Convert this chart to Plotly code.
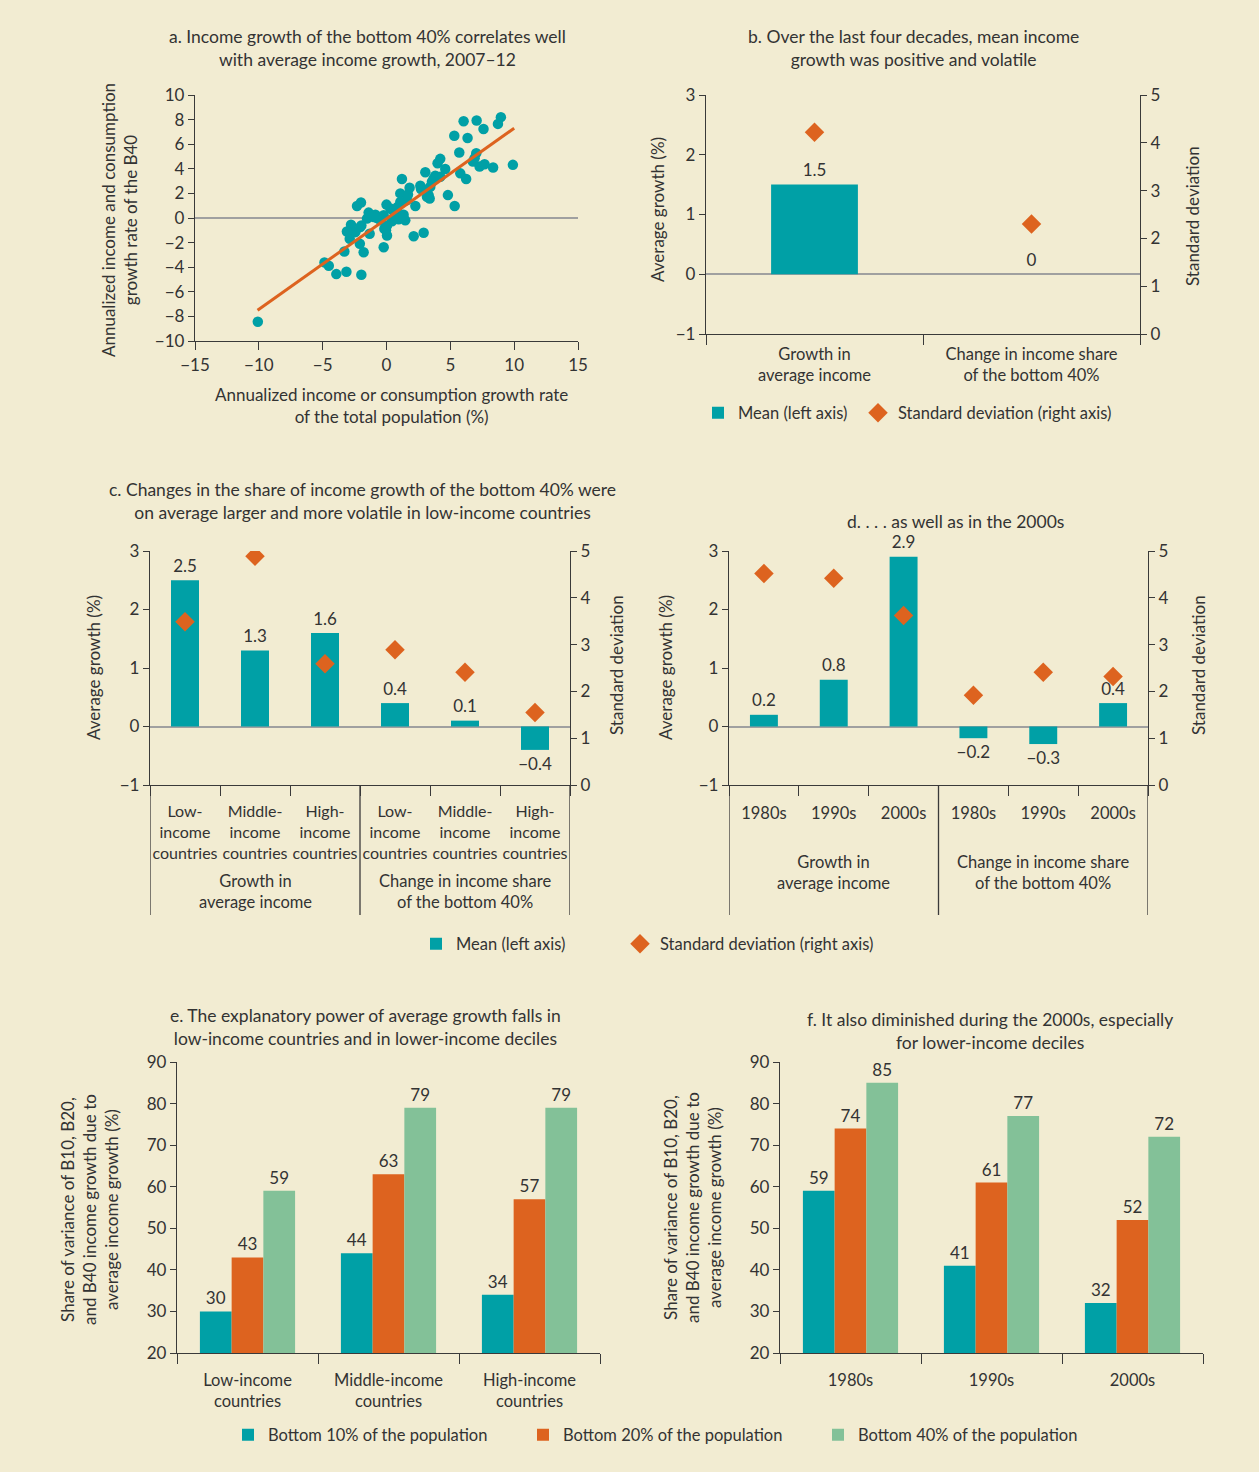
import plotly.graph_objects as go

W, H = 1259, 1472
BG = "#F2ECD2"
TEAL = "#00A0A6"
ORANGE = "#DD631F"
GREEN = "#83C198"
TXT = "#333333"
AXC = "#3a3a3a"
ZERO = "#A0A0A0"
FONT = "Lato"

# ---------------- Data ----------------
# Panel a: scatter of annualized growth (total population vs bottom 40%)
a_x = [-10.08, 8.96, 8.73, 6.04, 7.06, 7.6, 5.31, 6.35, 5.7, 7.03, 6.77, 7.29, 7.68, 8.35,
       9.9, 5.78, 6.24, 4.21, 4.0, 3.04, 4.6, 3.82, 1.21, 2.65, 1.81, 1.08, 3.17, 3.38, 4.81,
       5.34, 2.26, 1.6, 1.08, 0.0, 0.3, 0.56, -2.31, -2.0, -0.87, -1.53, -0.22, 1.34, 1.47,
       0.43, 0.95, -2.78, -2.05, -1.32, -0.17, 0.04, 2.13, 2.91, -2.88, -2.09, -1.79, -3.3,
       -0.22, -4.86, -4.52, -3.93, -3.14, -1.97, -2.44, -0.74, -0.48, 0.69, 3.69, 3.43, 2.78,
       0.04, -0.04, 1.68, 0.87, -1.0, -1.4, -1.97, -3.1, 3.56, 4.21, 2.7, 3.3, 6.9, 1.3]
a_y = [-8.44, 8.2, 7.65, 7.87, 7.92, 7.24, 6.69, 6.5, 5.33, 5.27, 4.59, 4.18, 4.37, 4.1,
       4.32, 3.63, 3.17, 4.81, 4.45, 3.72, 3.99, 3.44, 3.17, 2.62, 2.46, 2.0, 1.72, 1.58, 1.86,
       0.98, 0.98, 1.45, 1.31, 1.09, 0.77, 0.55, 0.98, 1.26, 0.27, -0.05, 0.22, 0.27, -0.19,
       -0.27, -0.11, -0.55, -0.74, -1.28, -0.87, -1.42, -1.48, -1.2, -1.69, -2.1, -2.79, -2.73,
       -2.38, -3.61, -3.88, -4.56, -4.37, -4.62, -1.15, 0.0, -0.19, 0.22, 3.22, 2.54, 2.4,
       -0.6, -1.0, 1.91, 0.9, 0.08, 0.44, -0.6, -1.1, 2.95, 3.36, 2.35, 1.86, 4.86, 0.08]
a_fit_x = [-10.1, 10.0]
a_fit_y = [-7.5, 7.3]

# Panel b
b_cats = ["Growth in<br>average income", "Change in income share<br>of the bottom 40%"]
b_mean = [1.5, 0.0]
b_sd = [4.22, 2.3]

# Panel c
c_cats = ["Low-<br>income<br>countries", "Middle-<br>income<br>countries", "High-<br>income<br>countries",
          "Low-<br>income<br>countries", "Middle-<br>income<br>countries", "High-<br>income<br>countries"]
c_groups = ["Growth in<br>average income", "Change in income share<br>of the bottom 40%"]
c_mean = [2.5, 1.3, 1.6, 0.4, 0.1, -0.4]
c_sd = [3.49, 4.89, 2.59, 2.89, 2.41, 1.55]

# Panel d
d_cats = ["1980s", "1990s", "2000s", "1980s", "1990s", "2000s"]
d_groups = ["Growth in<br>average income", "Change in income share<br>of the bottom 40%"]
d_mean = [0.2, 0.8, 2.9, -0.2, -0.3, 0.4]
d_sd = [4.52, 4.42, 3.62, 1.92, 2.41, 2.32]

# Panels e, f
series_names = ["Bottom 10% of the population", "Bottom 20% of the population",
                "Bottom 40% of the population"]
e_cats = ["Low-income<br>countries", "Middle-income<br>countries", "High-income<br>countries"]
e_b10 = [30, 44, 34]
e_b20 = [43, 63, 57]
e_b40 = [59, 79, 79]
f_cats = ["1980s", "1990s", "2000s"]
f_b10 = [59, 41, 32]
f_b20 = [74, 61, 52]
f_b40 = [85, 77, 72]

titles = {
    "a": "a. Income growth of the bottom 40% correlates well<br>with average income growth, 2007\u201312",
    "b": "b. Over the last four decades, mean income<br>growth was positive and volatile",
    "c": "c. Changes in the share of income growth of the bottom 40% were<br>on average larger and more volatile in low-income countries",
    "d": "d. . . . as well as in the 2000s",
    "e": "e. The explanatory power of average growth falls in<br>low-income countries and in lower-income deciles",
    "f": "f. It also diminished during the 2000s, especially<br>for lower-income deciles",
}

# ---------------- Helpers ----------------
def px(xp):
    return xp / W


def py(yp):
    return 1 - yp / H


def fmt(v):
    s = "0" if v == 0 else f"{v:.1f}"
    return s.replace("-", "\u2212")


def ax(**kw):
    d = dict(showline=True, linecolor=AXC, linewidth=1.3, ticks="outside", tickcolor=AXC,
             tickwidth=1.3, ticklen=6, showgrid=False, zeroline=False, automargin=False,
             tickfont=dict(size=17, color=TXT, family=FONT), fixedrange=True)
    d.update(kw)
    return d


fig = go.Figure()
annotations = []
shapes = []

def ann(text, x, y, size=17, angle=0, xref="paper", yref="paper", align="center"):
    annotations.append(dict(text=text, x=x, y=y, xref=xref, yref=yref, showarrow=False,
                            textangle=angle, align=align, xanchor="center", yanchor="middle",
                            font=dict(size=size, color=TXT, family=FONT)))

# ---------------- Panel a ----------------
fig.add_trace(go.Scatter(x=a_x, y=a_y, mode="markers", xaxis="x", yaxis="y",
                         marker=dict(color=TEAL, size=10.5), showlegend=False, hoverinfo="skip"))
fig.add_trace(go.Scatter(x=a_fit_x, y=a_fit_y, mode="lines", xaxis="x", yaxis="y",
                         line=dict(color=ORANGE, width=3), showlegend=False, hoverinfo="skip"))

# ---------------- Panels b, c, d (bars + diamonds) ----------------
def bar_panel(xa, ya, ya2, means, sds, leg_bar, leg_dia, show_legend):
    n = len(means)
    xs = list(range(n))
    fig.add_trace(go.Bar(x=xs, y=means, xaxis=xa, yaxis=ya, width=0.4,
                         marker=dict(color=TEAL, line=dict(width=0)),
                         name="Mean (left axis)", legend=leg_bar, showlegend=show_legend))
    fig.add_trace(go.Scatter(x=xs, y=sds, xaxis=xa, yaxis=ya2, mode="markers",
                             marker=dict(symbol="diamond", size=15, color=ORANGE),
                             name="Standard deviation (right axis)", legend=leg_dia,
                             showlegend=show_legend))
    fig.add_trace(go.Scatter(x=xs, y=means, xaxis=xa, yaxis=ya, mode="markers+text",
                             marker=dict(size=[5 if v >= 0 else 10 for v in means], opacity=0),
                             text=[fmt(v) for v in means],
                             textposition=["top center" if v >= 0 else "bottom center" for v in means],
                             textfont=dict(size=17, color=TXT, family=FONT),
                             showlegend=False, cliponaxis=False, hoverinfo="skip"))

bar_panel("x2", "y2", "y3", b_mean, b_sd, "legend", "legend2", True)
bar_panel("x3", "y4", "y5", c_mean, c_sd, "legend3", "legend4", True)
bar_panel("x4", "y6", "y7", d_mean, d_sd, "legend3", "legend4", False)

# ---------------- Panels e, f (grouped bars) ----------------
colors = [TEAL, ORANGE, GREEN]
legs = ["legend5", "legend6", "legend7"]
bw = 0.225
for xa, ya, data, show in [("x5", "y8", [e_b10, e_b20, e_b40], True),
                           ("x6", "y9", [f_b10, f_b20, f_b40], False)]:
    for k, vals in enumerate(data):
        fig.add_trace(go.Bar(x=list(range(len(vals))), y=vals, xaxis=xa, yaxis=ya,
                             width=bw, offset=-1.5 * bw + k * bw,
                             marker=dict(color=colors[k], line=dict(width=0)),
                             text=[str(v) for v in vals], textposition="outside",
                             textfont=dict(size=17, color=TXT, family=FONT), cliponaxis=False,
                             name=series_names[k], legend=legs[k], showlegend=show))

# ---------------- Layout axes ----------------
yb_dom = [py(334), py(95)]
ycd_dom = [py(785), py(551)]
yef_dom = [py(1353), py(1062)]

def cat_x(dom, n, cats, anchor, standoff, size=16.5):
    return ax(domain=dom, range=[-0.5, n - 0.5], anchor=anchor, tickmode="array",
              tickvals=list(range(n)), ticktext=cats, ticks="", ticklabelstandoff=standoff,
              tickangle=0, tickfont=dict(size=size, color=TXT, family=FONT),
              minor=dict(tickmode="array", tickvals=[i - 0.5 for i in range(n + 1)],
                         ticks="outside", ticklen=10, tickcolor=AXC, tickwidth=1.3))

layout_axes = dict(
    xaxis=ax(domain=[px(195), px(578)], range=[-15, 15], dtick=5, tick0=0, anchor="y", ticklen=8),
    yaxis=ax(domain=[py(341), py(95)], range=[-10, 10], dtick=2, tick0=0, anchor="x",
             zeroline=True, zerolinecolor=ZERO, zerolinewidth=1.5),
    xaxis2=cat_x([px(706), px(1140)], 2, b_cats, "y2", 5),
    yaxis2=ax(domain=yb_dom, range=[-1, 3], dtick=1, anchor="x2",
              zeroline=True, zerolinecolor=ZERO, zerolinewidth=1.5),
    yaxis3=ax(overlaying="y2", side="right", range=[0, 5], dtick=1, anchor="x2"),
    xaxis3=cat_x([px(150), px(570)], 6, c_cats, "y4", 12, size=16),
    yaxis4=ax(domain=ycd_dom, range=[-1, 3], dtick=1, anchor="x3",
              zeroline=True, zerolinecolor=ZERO, zerolinewidth=1.5),
    yaxis5=ax(overlaying="y4", side="right", range=[0, 5], dtick=1, anchor="x3"),
    xaxis4=cat_x([px(729), px(1148)], 6, d_cats, "y6", 13),
    yaxis6=ax(domain=ycd_dom, range=[-1, 3], dtick=1, anchor="x4",
              zeroline=True, zerolinecolor=ZERO, zerolinewidth=1.5),
    yaxis7=ax(overlaying="y6", side="right", range=[0, 5], dtick=1, anchor="x4"),
    xaxis5=cat_x([px(177), px(600)], 3, e_cats, "y8", 12),
    yaxis8=ax(domain=yef_dom, range=[20, 90], dtick=10, anchor="x5"),
    xaxis6=cat_x([px(780), px(1203)], 3, f_cats, "y9", 12),
    yaxis9=ax(domain=yef_dom, range=[20, 90], dtick=10, anchor="x6"),
)

# ---------------- Titles and axis labels ----------------
TS = 17.5
ann(titles["a"], px(367), py(48), size=TS)
ann(titles["b"], px(913), py(48), size=TS)
ann(titles["c"], px(362), py(501), size=TS)
ann(titles["d"], px(955), py(521), size=TS)
ann(titles["e"], px(365), py(1027), size=TS)
ann(titles["f"], px(990), py(1031), size=TS)

ann("Annualized income and consumption<br>growth rate of the B40", px(120), py(220), angle=-90)
ann("Annualized income or consumption growth rate<br>of the total population (%)", px(391), py(405))
ann("Average growth (%)", px(657), py(210), angle=-90)
ann("Standard deviation", px(1193), py(216), angle=-90)
ann("Average growth (%)", px(93), py(668), angle=-90)
ann("Standard deviation", px(616), py(665), angle=-90)
ann("Average growth (%)", px(665), py(668), angle=-90)
ann("Standard deviation", px(1198), py(665), angle=-90)
ann("Share of variance of B10, B20,<br>and B40 income growth due to<br>average income growth (%)",
    px(89), py(1210), angle=-90)
ann("Share of variance of B10, B20,<br>and B40 income growth due to<br>average income growth (%)",
    px(692), py(1208), angle=-90)

# group labels and separators for c and d
for xa, ygrp, groups in [("x3", 891, c_groups), ("x4", 872, d_groups)]:
    for g, label in enumerate(groups):
        ann(label, 1 + 3 * g, py(ygrp), size=16.5, xref=xa)
    for xv in [-0.5, 2.5, 5.5]:
        shapes.append(dict(type="line", xref=xa, yref="paper", x0=xv, x1=xv,
                           y0=py(785), y1=py(915), line=dict(color=AXC, width=1.3)))

def leg(icon_x, y):
    return dict(orientation="h", x=px(icon_x - 20), y=py(y), xanchor="left", yanchor="middle",
                bgcolor="rgba(0,0,0,0)", font=dict(size=16.5, color=TXT, family=FONT),
                traceorder="normal")

fig.update_layout(
    width=W, height=H, margin=dict(l=0, r=0, t=0, b=0, autoexpand=False),
    paper_bgcolor=BG, plot_bgcolor=BG, barmode="overlay",
    font=dict(family=FONT, size=17, color=TXT),
    annotations=annotations, shapes=shapes,
    legend=leg(718, 413), legend2=leg(878, 413),
    legend3=leg(436, 944), legend4=leg(640, 944),
    legend5=leg(248, 1435), legend6=leg(543, 1435), legend7=leg(838, 1435),
    **layout_axes,
)

fig.write_html("out.html", config={"displayModeBar": False},
               post_script="document.body.style.margin='0';document.body.style.background='%s';" % BG)
